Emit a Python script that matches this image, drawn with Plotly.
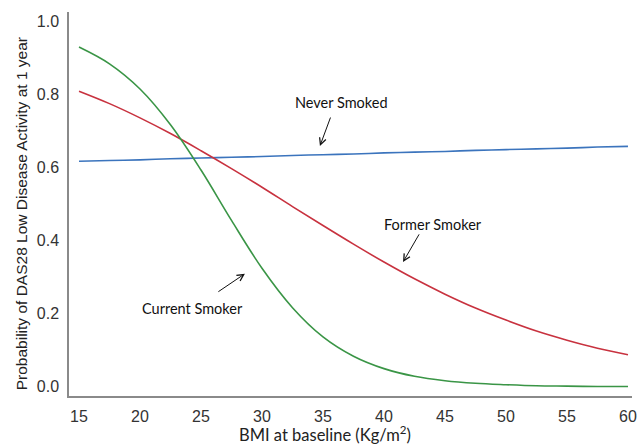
import plotly.graph_objects as go

bmi = [15, 17.5, 20, 22.5, 25, 27.5, 30, 32.5, 35, 37.5, 40, 42.5, 45, 47.5, 50, 52.5, 55, 57.5, 60]
never_smoked = [0.618, 0.620, 0.622, 0.625, 0.627, 0.629, 0.631, 0.634, 0.636, 0.638, 0.641, 0.643, 0.645, 0.648, 0.650, 0.652, 0.654, 0.657, 0.659]
former_smoker = [0.810, 0.776, 0.737, 0.694, 0.647, 0.598, 0.547, 0.494, 0.442, 0.391, 0.342, 0.296, 0.254, 0.216, 0.183, 0.153, 0.128, 0.106, 0.088]
current_smoker = [0.931, 0.885, 0.816, 0.718, 0.594, 0.456, 0.325, 0.217, 0.137, 0.084, 0.050, 0.029, 0.017, 0.010, 0.006, 0.003, 0.002, 0.001, 0.001]

x_ticks = [15, 20, 25, 30, 35, 40, 45, 50, 55, 60]
y_ticks = [0.0, 0.2, 0.4, 0.6, 0.8, 1.0]
y_ticklabels = ["0.0", "0.2", "0.4", "0.6", "0.8", "1.0"]

fig = go.Figure()
fig.add_trace(go.Scatter(x=bmi, y=never_smoked, mode="lines", line=dict(color="#3b74bd", width=1.6, shape="spline"), name="Never Smoked"))
fig.add_trace(go.Scatter(x=bmi, y=former_smoker, mode="lines", line=dict(color="#c8323f", width=1.6, shape="spline"), name="Former Smoker"))
fig.add_trace(go.Scatter(x=bmi, y=current_smoker, mode="lines", line=dict(color="#3a9546", width=1.6, shape="spline"), name="Current Smoker"))

ann_font = dict(family="Lato, Open Sans, sans-serif", size=14.5, color="#111")
labels = [
    ("Never Smoked", 36.5, 0.778, 35.66, 0.742, 34.75, 0.660),
    ("Former Smoker", 44.0, 0.444, 42.95, 0.422, 41.56, 0.342),
    ("Current Smoker", 24.3, 0.214, 26.3, 0.258, 28.6, 0.310),
]
annotations = []
for text, tx, ty, ax0, ay0, hx, hy in labels:
    annotations.append(dict(x=tx, y=ty, xref="x", yref="y", text=text, showarrow=False, font=ann_font))
    annotations.append(dict(x=hx, y=hy, ax=ax0, ay=ay0, xref="x", yref="y", axref="x", ayref="y",
                            text="", showarrow=True, arrowhead=5, arrowsize=1.3, arrowwidth=1, arrowcolor="#111"))

# axis titles (plot area spans x 69..632, y 12..396 in pixels)
annotations.append(dict(x=0.455, y=-0.099, xref="paper", yref="paper", xanchor="center", yanchor="middle",
                        text="BMI at baseline (Kg/m<sup>2</sup>)", showarrow=False,
                        font=dict(family="Lato, Open Sans, sans-serif", size=16.5, color="#222")))
annotations.append(dict(x=-0.083, y=0.474, xref="paper", yref="paper", xanchor="center", yanchor="middle",
                        text="Probability of DAS28 Low Disease Activity at 1 year", showarrow=False, textangle=-90,
                        font=dict(family="Arial, Liberation Sans, sans-serif", size=15.5, color="#222")))

fig.update_layout(
    width=639, height=444,
    margin=dict(l=69, r=7, t=12, b=48),
    paper_bgcolor="white", plot_bgcolor="white",
    showlegend=False,
    annotations=annotations,
    xaxis=dict(range=[14.18, 60.33], tickvals=x_ticks, showgrid=False, zeroline=False, automargin=False,
               showline=True, linecolor="#8a8a8a", linewidth=1.5, ticks="", ticklabelstandoff=5,
               tickfont=dict(family="Arial, Liberation Sans, sans-serif", size=16, color="#333")),
    yaxis=dict(range=[-0.025, 1.027], tickvals=y_ticks, ticktext=y_ticklabels, showgrid=False, zeroline=False,
               automargin=False,
               showline=True, linecolor="#8a8a8a", linewidth=1.5, ticks="", ticklabelstandoff=5,
               tickfont=dict(family="Arial, Liberation Sans, sans-serif", size=16, color="#333")),
)
fig.write_html("out.html", config={"displayModeBar": False},
               post_script="document.body.style.margin='0';")
